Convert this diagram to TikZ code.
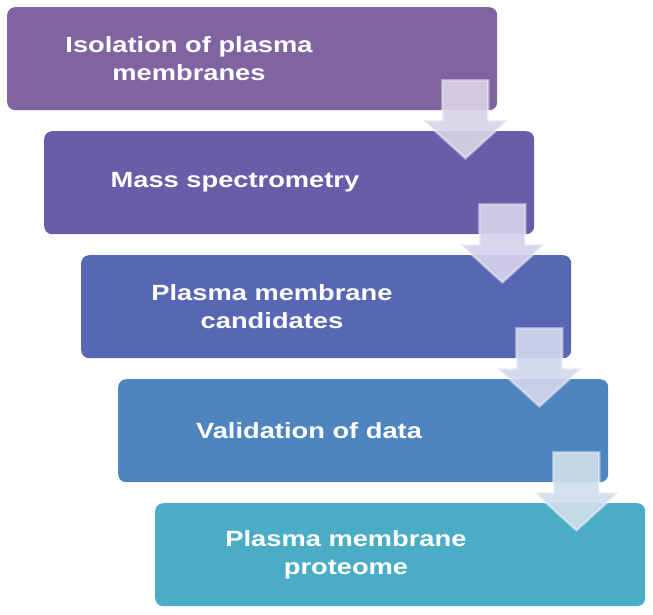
\documentclass[tikz,border=0pt]{standalone}
\usepackage{fontspec}
\setmainfont{Liberation Sans}[FakeStretch=1.24]
\definecolor{c1}{HTML}{8064A2}
\definecolor{c2}{HTML}{695CA8}
\definecolor{c3}{HTML}{5867B4}
\definecolor{c4}{HTML}{4F85BF}
\definecolor{c5}{HTML}{4BACC6}
\definecolor{a1}{HTML}{D8D2E6}
\definecolor{a2}{HTML}{D5D2EA}
\definecolor{a3}{HTML}{D2D7EC}
\definecolor{a4}{HTML}{CEDEEB}
\begin{document}
\begin{tikzpicture}[x=1pt,y=-1pt,
  stepbox/.style={rectangle, rounded corners=8pt, minimum width=490pt, minimum height=103pt, inner sep=0pt, draw=none, anchor=north west},
  steptext/.style={text=white, font=\fontsize{22}{28}\selectfont\bfseries, align=center, inner sep=0pt},
  blockarrow/.style={fill opacity=0.92, draw=white, draw opacity=0.4, line width=2.5pt, line join=miter}]
\useasboundingbox (0,0) rectangle (653,615);
\node[stepbox, fill=c1] (b1) at (7,7) {};
\node[stepbox, fill=c2] (b2) at (44,131) {};
\node[stepbox, fill=c3] (b3) at (81,255) {};
\node[stepbox, fill=c4] (b4) at (118,379) {};
\node[stepbox, fill=c5] (b5) at (155,503) {};
\node[steptext] (t1) at ([xshift=182pt]b1.west) {Isolation of plasma\\membranes};
\node[steptext] (t2) at ([xshift=191pt]b2.west) {Mass spectrometry};
\node[steptext] (t3) at ([xshift=191pt]b3.west) {Plasma membrane\\candidates};
\node[steptext] (t4) at ([xshift=191pt]b4.west) {Validation of data};
\node[steptext] (t5) at ([xshift=191pt]b5.west) {Plasma membrane\\proteome};
\foreach \i/\c in {1/a1,2/a2,3/a3,4/a4}{
  \path (b\i.south east) ++(-32,-30) coordinate (p\i);
  \draw[blockarrow, fill=\c] ([xshift=-23pt]p\i) -- ++(0,40) -- ++(-19,0) -- ++(42,38) -- ++(42,-38) -- ++(-19,0) -- ++(0,-40) -- cycle;
}
\end{tikzpicture}
\end{document}
